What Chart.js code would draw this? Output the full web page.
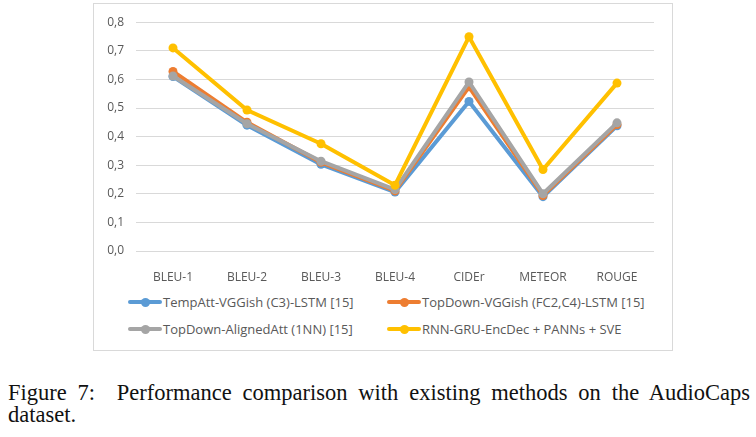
<!DOCTYPE html>
<html>
<head>
<meta charset="utf-8">
<script src="https://cdn.jsdelivr.net/npm/chart.js@4.4.0/dist/chart.umd.min.js"></script>
<style>
  body { margin: 0; background: #fff; width: 756px; height: 437px; overflow: hidden; position: relative; }
  #box { position: absolute; left: 93px; top: 3px; width: 578px; height: 346px; border: 1px solid #d9d9d9; }
  #wrap { position: absolute; left: 93px; top: 3px; width: 579px; height: 290px; }
  .leg { position: absolute; font-family: 'Open Sans', sans-serif; font-size: 13px; color: #595959; white-space: nowrap; }
  .leg i { position: absolute; left: 0; top: 50%; width: 34px; height: 4px; margin-top: -2px; border-radius: 2px; }
  .leg b { position: absolute; left: 13px; top: 50%; width: 9px; height: 9px; margin-top: -4.5px; border-radius: 50%; }
  .leg span { position: absolute; left: 35px; top: 50%; transform: translateY(-50%); }
  .cap { position: absolute; left: 8px; width: 742px; font-family: 'Liberation Serif', serif; font-size: 22.5px; line-height: 24px; color: #111; }
</style>
</head>
<body>
<div id="box"></div>
<div id="wrap"><canvas id="chart"></canvas></div>
<div id="legend"></div>
<div class="cap" style="top:381px; text-align: justify; text-align-last: justify;">Figure 7:&nbsp; Performance comparison with existing methods on the AudioCaps</div>
<div class="cap" style="top:403px;">dataset.</div>
<script>
// Métricas e resultados
const categories = ['BLEU-1', 'BLEU-2', 'BLEU-3', 'BLEU-4', 'CIDEr', 'METEOR', 'ROUGE'];
const seriesNames = [
    'TempAtt-VGGish (C3)-LSTM [15]',
    'TopDown-VGGish (FC2,C4)-LSTM [15]',
    'TopDown-AlignedAtt (1NN) [15]',
    'RNN-GRU-EncDec + PANNs + SVE'
];
const tempAtt = [0.610, 0.440, 0.303, 0.206, 0.523, 0.190, 0.438];
const topDownVGGish = [0.628, 0.450, 0.310, 0.210, 0.574, 0.194, 0.442];
const topDownAligned = [0.612, 0.445, 0.314, 0.215, 0.591, 0.200, 0.448];
const rnnGru = [0.710, 0.493, 0.375, 0.230, 0.749, 0.285, 0.587];
const yTicks = [0, 0.1, 0.2, 0.3, 0.4, 0.5, 0.6, 0.7, 0.8];

const colors = ['#5b9bd5', '#ed7d31', '#a5a5a5', '#ffc000'];
const values = [tempAtt, topDownVGGish, topDownAligned, rnnGru];

function makeDataset(i) {
    return {
        label: seriesNames[i],
        data: values[i],
        borderColor: colors[i],
        backgroundColor: colors[i],
        borderWidth: 4,
        pointRadius: 4.5,
        pointHoverRadius: 4.5,
        pointBorderWidth: 0,
        tension: 0,
        order: 4 - i
    };
}

new Chart(document.getElementById('chart'), {
    type: 'line',
    data: {
        labels: categories,
        datasets: [0, 1, 2, 3].map(makeDataset)
    },
    options: {
        responsive: true,
        maintainAspectRatio: false,
        animation: false,
        layout: { padding: { top: 18, right: 18, left: 0, bottom: 0 } },
        plugins: { legend: { display: false }, tooltip: { enabled: false } },
        scales: {
            x: {
                offset: true,
                grid: { display: false },
                border: { display: false },
                ticks: { color: '#595959', font: { family: "'Open Sans', sans-serif", size: 12 }, padding: 11, maxRotation: 0 },
                afterFit: function(scale) { scale.height = 42; }
            },
            y: {
                min: 0,
                max: 0.8,
                afterBuildTicks: function(scale) { scale.ticks = yTicks.map(v => ({ value: v })); },
                grid: { color: '#d9d9d9', lineWidth: 1, drawTicks: false },
                border: { display: false },
                ticks: {
                    color: '#595959',
                    font: { family: "'Open Sans', sans-serif", size: 12 },
                    padding: 12,
                    callback: function(value) { return value.toFixed(1).replace('.', ','); }
                },
                afterFit: function(scale) { scale.width = 43; }
            }
        }
    }
});

// Legenda em HTML
const legendPos = [[128, 302], [387, 302], [128, 329], [387, 329]];
const legend = document.getElementById('legend');
seriesNames.forEach(function(name, i) {
    const el = document.createElement('div');
    el.className = 'leg';
    el.style.left = legendPos[i][0] + 'px';
    el.style.top = (legendPos[i][1] - 10) + 'px';
    el.style.height = '20px';
    el.innerHTML = '<i style="background:' + colors[i] + '"></i><b style="background:' + colors[i] + '"></b><span>' + name + '</span>';
    legend.appendChild(el);
});
</script>
</body>
</html>
